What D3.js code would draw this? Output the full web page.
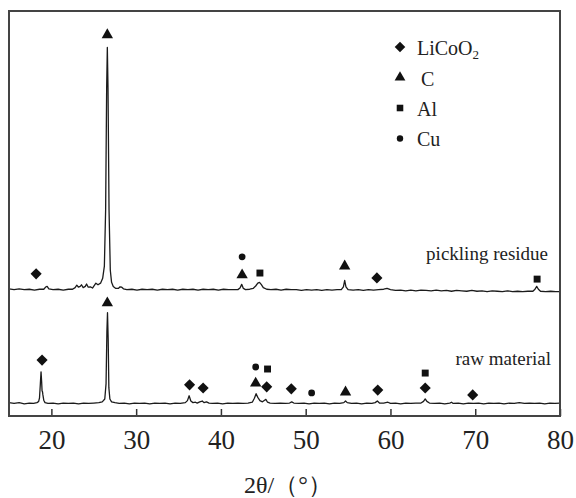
<!DOCTYPE html>
<html><head><meta charset="utf-8">
<script src="https://cdn.jsdelivr.net/npm/d3@7"></script>
<style>
html,body{margin:0;padding:0;background:#fff;}
svg text{font-family:"Liberation Serif","Times New Roman",serif;fill:#222;}
</style></head>
<body>
<svg id="chart" width="576" height="498"></svg>
<script>
// ---- data (2θ in degrees, relative intensity in a.u.) ----
const seriesNames = ["raw material", "pickling residue"];
const seriesOffsets = [3, 31];
const rawPattern = [[15.0,0.3],[15.6,0.1],[16.2,0.3],[16.8,0.0],[17.4,0.2],[17.9,0.1],[18.3,0.3],[18.5,0.6],[18.6,1.5],[18.7,5.0],[18.78,7.9],[18.85,5.5],[18.9,3.2],[18.95,3.0],[19.0,2.2],[19.1,0.9],[19.25,0.3],[19.6,0.1],[20.2,0.2],[20.8,0.0],[21.4,0.2],[22.0,0.1],[22.6,0.2],[23.2,0.0],[23.8,0.2],[24.4,0.1],[25.0,0.2],[25.6,0.3],[26.0,0.5],[26.3,1.2],[26.45,5],[26.55,18],[26.62,22.5],[26.7,16],[26.78,4],[26.9,1.2],[27.1,0.5],[27.5,0.3],[28.0,0.1],[28.6,0.2],[29.2,0.0],[29.8,0.2],[30.4,0.1],[31.0,0.2],[31.6,0.0],[32.2,0.2],[32.8,0.1],[33.4,0.2],[34.0,0.0],[34.6,0.2],[35.2,0.1],[35.8,0.3],[36.05,0.8],[36.25,2.0],[36.45,0.7],[36.7,0.3],[37.0,0.4],[37.2,0.2],[37.5,0.5],[37.8,0.7],[38.0,0.3],[38.3,0.5],[38.6,0.2],[39.0,0.1],[39.6,0.2],[40.2,0.0],[40.8,0.2],[41.4,0.1],[42.0,0.2],[42.6,0.1],[43.2,0.2],[43.7,0.4],[43.95,1.4],[44.15,2.5],[44.35,1.6],[44.6,0.8],[44.9,0.5],[45.15,0.9],[45.3,1.1],[45.5,0.4],[45.8,0.2],[46.4,0.1],[47.0,0.2],[47.6,0.1],[48.1,0.2],[48.35,0.5],[48.6,0.2],[49.2,0.1],[49.8,0.2],[50.4,0.0],[51.0,0.2],[51.6,0.1],[52.2,0.2],[52.8,0.0],[53.4,0.2],[54.0,0.1],[54.5,0.3],[54.7,0.7],[54.9,0.3],[55.4,0.1],[56.0,0.2],[56.6,0.0],[57.2,0.2],[57.8,0.1],[58.2,0.3],[58.45,0.7],[58.7,0.2],[59.2,0.2],[59.7,0.4],[60.0,0.1],[60.6,0.2],[61.2,0.0],[61.8,0.2],[62.4,0.1],[63.0,0.2],[63.6,0.2],[63.9,0.6],[64.1,1.2],[64.3,0.6],[64.6,0.2],[65.2,0.1],[65.8,0.2],[66.4,0.0],[67.0,0.2],[67.2,0.4],[67.4,0.1],[68.0,0.2],[68.6,0.0],[69.2,0.2],[69.8,0.1],[70.4,0.2],[71.0,0.0],[71.6,0.2],[72.2,0.1],[72.8,0.2],[73.4,0.0],[74.0,0.2],[74.6,0.1],[75.2,0.3],[75.8,0.1],[76.4,0.2],[77.0,0.1],[77.6,0.2],[78.2,0.0],[78.8,0.2],[79.4,0.1],[80.0,0.2]];
const picklingPattern = [[15.0,0.4],[15.6,0.2],[16.2,0.4],[16.8,0.2],[17.4,0.3],[18.0,0.1],[18.6,0.3],[19.1,0.3],[19.35,0.9],[19.5,1.0],[19.7,0.4],[20.2,0.2],[20.8,0.3],[21.4,0.1],[22.0,0.3],[22.5,0.3],[22.8,0.7],[23.0,1.3],[23.2,0.8],[23.4,1.0],[23.55,1.4],[23.75,0.7],[24.0,1.0],[24.15,1.6],[24.35,0.8],[24.6,0.9],[24.85,0.6],[25.05,1.2],[25.25,1.8],[25.5,1.4],[25.8,1.8],[26.05,3.0],[26.25,6],[26.4,20],[26.52,50],[26.6,60],[26.68,50],[26.8,20],[26.95,5],[27.1,2.0],[27.3,1.0],[27.6,0.5],[27.9,0.5],[28.1,0.9],[28.3,0.8],[28.5,0.4],[28.9,0.2],[29.5,0.3],[30.1,0.1],[30.7,0.3],[31.3,0.2],[31.9,0.3],[32.5,0.1],[33.1,0.3],[33.7,0.2],[34.3,0.3],[34.9,0.1],[35.5,0.3],[36.1,0.2],[36.7,0.3],[37.3,0.1],[37.9,0.3],[38.5,0.2],[39.1,0.3],[39.7,0.1],[40.3,0.3],[40.9,0.2],[41.5,0.2],[42.0,0.2],[42.25,0.6],[42.45,1.5],[42.65,0.5],[42.9,0.2],[43.4,0.3],[43.8,0.5],[44.1,1.1],[44.35,1.8],[44.55,2.0],[44.75,1.5],[45.0,0.7],[45.4,0.3],[45.9,0.2],[46.5,0.3],[47.1,0.1],[47.7,0.3],[48.3,0.2],[48.9,0.2],[49.5,0.0],[50.1,0.2],[50.7,0.1],[51.3,0.2],[51.9,0.0],[52.5,0.2],[53.1,0.1],[53.7,0.2],[54.2,0.2],[54.45,0.9],[54.6,2.5],[54.75,0.9],[55.0,0.2],[55.6,0.1],[56.2,0.2],[56.8,0.0],[57.4,0.2],[58.0,0.1],[58.6,0.2],[59.2,0.3],[59.6,0.5],[60.0,0.2],[60.6,0.0],[61.2,0.1],[61.8,-0.1],[62.4,0.1],[63.0,-0.1],[63.6,0.1],[64.2,0.0],[64.8,-0.1],[65.4,0.1],[66.0,-0.1],[66.6,0.0],[67.2,-0.2],[67.8,0.0],[68.4,-0.1],[69.0,-0.2],[69.6,0.0],[70.2,-0.2],[70.8,-0.1],[71.4,-0.3],[72.0,-0.1],[72.6,-0.2],[73.2,-0.3],[73.8,-0.1],[74.4,-0.3],[75.0,-0.2],[75.6,-0.3],[76.2,-0.2],[76.8,-0.2],[77.05,0.3],[77.25,1.0],[77.45,0.3],[77.7,-0.2],[78.3,-0.3],[78.9,-0.2],[79.5,-0.3],[80.0,-0.3]];

// phase markers: phase, 2θ, absolute level (a.u.)
const phases = ["LiCoO₂", "C", "Al", "Cu"];
const markerPhase = ["C","LiCoO₂","Cu","C","Al","C","LiCoO₂","Al",
                     "LiCoO₂","C","LiCoO₂","LiCoO₂","Cu","C","Al","LiCoO₂","LiCoO₂","Cu","C","LiCoO₂","Al","LiCoO₂","LiCoO₂"];
const markerTheta = [26.6,18.2,42.5,42.5,44.6,54.6,58.4,77.3,
                     18.9,26.6,36.3,37.9,44.1,44.1,45.5,45.4,48.3,50.7,54.7,58.5,64.1,64.1,69.7];
const markerLevel = [94.1,35.1,39.3,34.8,35.3,37.0,34.1,33.8,
                     13.8,27.9,7.7,6.9,12.1,8.1,11.6,7.2,6.7,5.7,5.9,6.4,10.6,6.9,5.2];
const xTicks = [20,30,40,50,60,70,80];

// ---- layout ----
const svg = d3.select("#chart");
const mLeft = 9, mRight = 560, mTop = 11, mBottom = 416;
const x = d3.scaleLinear().domain([15,80]).range([mLeft,mRight]);
const y = d3.scaleLinear().domain([0,100]).range([mBottom,mTop]);

const symbolOf = {
  "LiCoO₂": {type: d3.symbolSquare, size: 62, rot: 45},
  "C": {type: d3.symbolTriangle, size: 56, rot: 0},
  "Al": {type: d3.symbolSquare, size: 48, rot: 0},
  "Cu": {type: d3.symbolCircle, size: 36, rot: 0}
};

// traces
const line = d3.line().x(d => x(d[0])).y(d => y(d[1]));
const patterns = [rawPattern, picklingPattern];
patterns.forEach((p, i) => {
  svg.append("path")
    .datum(p.map(d => [d[0], d[1] + seriesOffsets[i]]))
    .attr("d", line)
    .attr("fill", "none")
    .attr("stroke", "#1b1b1b")
    .attr("stroke-width", 1.3)
    .attr("stroke-linejoin", "round");
});

// markers
svg.append("g").selectAll("path")
  .data(markerTheta.map((t, i) => ({t, l: markerLevel[i], p: markerPhase[i]})))
  .join("path")
  .attr("d", d => d3.symbol().type(symbolOf[d.p].type).size(symbolOf[d.p].size)())
  .attr("transform", d => `translate(${x(d.t)},${y(d.l)}) rotate(${symbolOf[d.p].rot})`)
  .attr("fill", "#111");

// series labels
svg.append("text").attr("x", 548).attr("y", 260).attr("text-anchor", "end")
  .style("font-size", "19px").text(seriesNames[1]);
svg.append("text").attr("x", 551).attr("y", 365).attr("text-anchor", "end")
  .style("font-size", "19px").text(seriesNames[0]);

// x axis with inward ticks
const xAxis = d3.axisBottom(x).tickValues(xTicks).tickSizeInner(-7).tickSizeOuter(0).tickFormat(d3.format("d"));
const gx = svg.append("g").attr("transform", `translate(0,${mBottom})`).call(xAxis);
gx.select(".domain").remove();
gx.selectAll(".tick line").attr("stroke", "#333").attr("stroke-width", 1.5);
gx.selectAll(".tick text").attr("y", 33).attr("dy", 0)
  .style("font-size", "27px").style("font-family", "'Liberation Serif',serif").attr("fill", "#222");

// frame
svg.append("rect").attr("x", mLeft).attr("y", mTop).attr("width", mRight-mLeft).attr("height", mBottom-mTop)
  .attr("fill", "none").attr("stroke", "#444").attr("stroke-width", 2);

// x label
svg.append("text").attr("x", 288).attr("y", 493).attr("text-anchor", "middle")
  .style("font-size", "24px").text("2θ/（°）");

// legend
const lg = svg.append("g");
phases.forEach((ph, i) => {
  const cy = 47 + i*30.5;
  lg.append("path").attr("d", d3.symbol().type(symbolOf[ph].type).size(symbolOf[ph].size*0.9)())
    .attr("transform", `translate(400,${cy}) rotate(${symbolOf[ph].rot})`).attr("fill", "#111");
});
const lt = lg.append("text").attr("x", 417).attr("y", 55).style("font-size", "20px");
lt.append("tspan").text("LiCoO");
lt.append("tspan").attr("dy", 4).style("font-size", "13px").text("2");
lg.append("text").attr("x", 421).attr("y", 86).style("font-size", "20px").text("C");
lg.append("text").attr("x", 417).attr("y", 116).style("font-size", "20px").text("Al");
lg.append("text").attr("x", 417).attr("y", 146).style("font-size", "20px").text("Cu");
</script>
</body></html>
